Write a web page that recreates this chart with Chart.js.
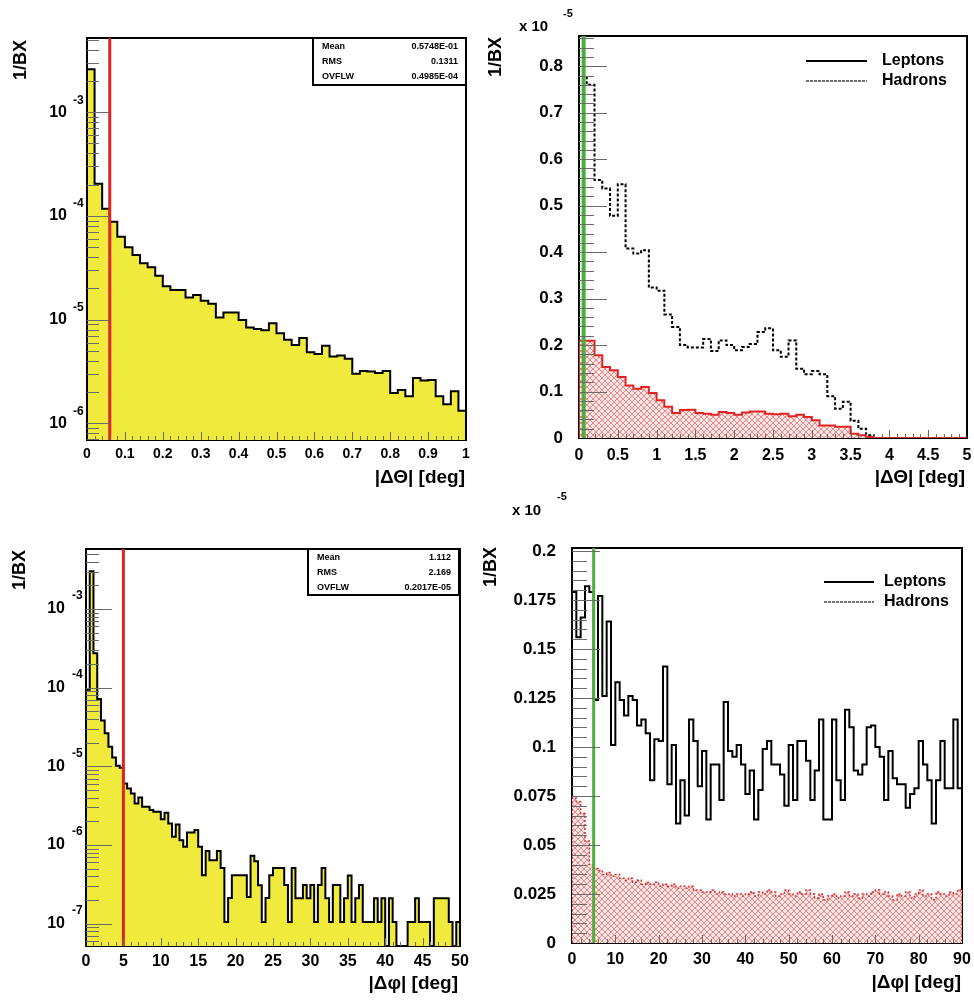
<!DOCTYPE html>
<html>
<head>
<meta charset="utf-8">
<script src="https://cdn.jsdelivr.net/npm/chart.js@4.4.1/dist/chart.umd.min.js"></script>
<style>
  body { margin: 0; background: #fff; width: 974px; height: 1001px; position: relative; overflow: hidden; }
  canvas { position: absolute; }
</style>
</head>
<body>
<canvas id="c1" width="480" height="500" style="left:0;top:0"></canvas>
<canvas id="c2" width="498" height="500" style="left:476px;top:0"></canvas>
<canvas id="c3" width="480" height="516" style="left:0;top:485px"></canvas>
<canvas id="c4" width="498" height="516" style="left:476px;top:485px"></canvas>
<script>
const FONT = "'Liberation Sans', Arial, sans-serif";
Chart.defaults.font.family = FONT;
Chart.defaults.font.weight = 'bold';
Chart.defaults.color = '#000';

// |dTheta| all pairs, 1/BX per 0.02 deg bin
const thetaStep = 0.02;
const thetaAll = [
    2.6e-3, 2.04e-4, 1.17e-4, 8.8e-5, 6.3e-5, 5.0e-5, 4.2e-5, 3.5e-5, 3.2e-5, 2.65e-5,
    2.1e-5, 1.93e-5, 1.93e-5, 1.63e-5, 1.73e-5, 1.52e-5, 1.42e-5, 1.05e-5, 1.17e-5, 1.17e-5,
    9.9e-6, 8.4e-6, 8.1e-6, 7.9e-6, 9.2e-6, 7.4e-6, 6.4e-6, 5.7e-6, 6.65e-6, 4.84e-6,
    4.67e-6, 5.6e-6, 4.4e-6, 4.5e-6, 4.2e-6, 3.0e-6, 3.2e-6, 3.15e-6, 3.05e-6, 3.2e-6,
    1.96e-6, 2.1e-6, 1.82e-6, 2.73e-6, 2.58e-6, 2.62e-6, 1.82e-6, 1.53e-6, 2.04e-6, 1.32e-6
];

// |dTheta| split by species, units of 1e-5 per 0.1 deg bin
const thetaSplitStep = 0.1;
const thetaHadrons = [
    0.779, 0.760, 0.555, 0.537, 0.478, 0.546, 0.408, 0.397, 0.404, 0.324,
    0.317, 0.266, 0.239, 0.200, 0.195, 0.195, 0.213, 0.187, 0.210, 0.200,
    0.189, 0.196, 0.202, 0.228, 0.236, 0.189, 0.175, 0.210, 0.149, 0.137,
    0.144, 0.137, 0.090, 0.063, 0.078, 0.037, 0.020, 0.006, 0, 0,
    0, 0, 0, 0, 0, 0, 0, 0, 0, 0
];
const thetaLeptons = [
    0.209, 0.209, 0.178, 0.153, 0.146, 0.131, 0.113, 0.106, 0.110, 0.097,
    0.081, 0.067, 0.054, 0.060, 0.061, 0.054, 0.052, 0.050, 0.056, 0.054,
    0.050, 0.055, 0.057, 0.057, 0.052, 0.051, 0.052, 0.047, 0.050, 0.045,
    0.038, 0.027, 0.027, 0.024, 0.024, 0.009, 0.006, 0.002, 0, 0,
    0, 0, 0, 0, 0, 0, 0, 0, 0, 0
];

// |dPhi| all pairs, 1/BX per 0.5 deg bin
const phiStep = 0.5;
const phiAll = [
    9.4e-5, 3.02e-3, 2.75e-4, 7.2e-5, 3.82e-5, 2.63e-5, 1.78e-5, 1.30e-5, 1.02e-5, 9.6e-6,
    6.07e-6, 5.24e-6, 4.53e-6, 3.38e-6, 4.03e-6, 3.06e-6, 3.06e-6, 2.78e-6, 2.65e-6, 2.65e-6,
    2.13e-6, 2.57e-6, 1.88e-6, 1.27e-6, 1.82e-6, 1.15e-6, 9.5e-7, 1.44e-6, 1.44e-6, 1.55e-6,
    9.5e-7, 4.13e-7, 8.4e-7, 6.4e-7, 6.4e-7, 8.4e-7, 5.1e-7, 1.05e-7, 2.12e-7, 4.13e-7,
    4.13e-7, 4.13e-7, 4.13e-7, 2.19e-7, 7.3e-7, 6.2e-7, 3.08e-7, 1.05e-7, 2.12e-7, 4.13e-7,
    5.1e-7, 5.1e-7, 5.1e-7, 3.1e-7, 1.05e-7, 5.1e-7, 2.1e-7, 2.1e-7, 3.1e-7, 2.1e-7,
    3.1e-7, 1.05e-7, 3.1e-7, 5.1e-7, 2.1e-7, 1.05e-7, 3.1e-7, 3.1e-7, 1.05e-7, 2.1e-7,
    4.1e-7, 1.05e-7, 2.1e-7, 3.1e-7, 1.05e-7, 1.05e-7, 1.05e-7, 2.1e-7, 1.05e-7, 2.1e-7,
    0, 2.1e-7, 1.05e-7, 0, 0, 0, 1.05e-7, 1.05e-7, 2.1e-7, 1.05e-7,
    1.05e-7, 1.05e-7, 0, 2.1e-7, 2.1e-7, 2.1e-7, 2.1e-7, 1.05e-7, 0, 1.05e-7
];

// |dPhi| split by species, units of 1e-5 per 1 deg bin
const phiSplitStep = 1;
const phiHadrons = [
    0.179, 0.156, 0.166, 0.182, 0.179, 0.124, 0.177, 0.126, 0.164, 0.101,
    0.133, 0.124, 0.116, 0.126, 0.124, 0.111, 0.114, 0.107, 0.083, 0.104,
    0.103, 0.141, 0.081, 0.101, 0.061, 0.083, 0.065, 0.114, 0.103, 0.080,
    0.098, 0.063, 0.091, 0.091, 0.073, 0.123, 0.098, 0.095, 0.101, 0.091,
    0.076, 0.088, 0.063, 0.078, 0.099, 0.103, 0.091, 0.091, 0.086, 0.070,
    0.101, 0.073, 0.103, 0.103, 0.093, 0.073, 0.088, 0.114, 0.063, 0.063,
    0.114, 0.083, 0.073, 0.119, 0.110, 0.088, 0.086, 0.091, 0.110, 0.111,
    0.100, 0.095, 0.073, 0.098, 0.084, 0.081, 0.081, 0.069, 0.076, 0.079,
    0.103, 0.091, 0.083, 0.061, 0.083, 0.103, 0.079, 0.079, 0.114, 0.079
];
const phiLeptons = [
    0.074, 0.072, 0.066, 0.052, 0.040, 0.038, 0.037, 0.035, 0.036, 0.034,
    0.035, 0.033, 0.032, 0.033, 0.031, 0.032, 0.030, 0.031, 0.030, 0.031,
    0.029, 0.030, 0.029, 0.030, 0.028, 0.029, 0.028, 0.029, 0.027, 0.027,
    0.026, 0.026, 0.027, 0.025, 0.026, 0.025, 0.025, 0.024, 0.025, 0.024,
    0.025, 0.026, 0.024, 0.026, 0.025, 0.027, 0.026, 0.024, 0.025, 0.027,
    0.025, 0.024, 0.026, 0.025, 0.027, 0.025, 0.023, 0.025, 0.022, 0.024,
    0.025, 0.023, 0.024, 0.026, 0.024, 0.025, 0.023, 0.025, 0.024, 0.026,
    0.027, 0.025, 0.026, 0.024, 0.022, 0.025, 0.024, 0.026, 0.023, 0.025,
    0.027, 0.024, 0.025, 0.022, 0.026, 0.025, 0.024, 0.026, 0.025, 0.027
];

const thetaCut = 0.06;
const phiCut = 5;
const statsTheta = [['Mean', '0.5748E-01'], ['RMS', '0.1311'], ['OVFLW', '0.4985E-04']];
const statsPhi = [['Mean', '1.112'], ['RMS', '2.169'], ['OVFLW', '0.2017E-05']];
const legendNames = ['Leptons', 'Hadrons'];
const yTitle = '1/BX';
const thetaTitle = '|\u0394\u0398| [deg]';
const phiTitle = '|\u0394\u03c6| [deg]';

const YELLOW = '#f0ea3c';
const RED = '#e02424';
const GREEN = '#4caf3c';

function histPoints(values, step, floor) {
    const pts = [{ x: 0, y: floor }];
    values.forEach((v, i) => pts.push({ x: i * step, y: v > 0 ? v : floor }));
    const last = values[values.length - 1];
    pts.push({ x: values.length * step, y: last > 0 ? last : floor });
    pts.push({ x: values.length * step, y: floor });
    return pts;
}

function hatch() {
    const c = document.createElement('canvas');
    c.width = 6; c.height = 6;
    const g = c.getContext('2d');
    g.fillStyle = '#fce6e6';
    g.fillRect(0, 0, 6, 6);
    g.strokeStyle = 'rgba(228,110,110,0.8)';
    g.lineWidth = 1;
    g.beginPath();
    g.moveTo(0, 0); g.lineTo(6, 6);
    g.moveTo(6, 0); g.lineTo(0, 6);
    g.stroke();
    return g.createPattern(c, 'repeat');
}

const fitW = w => s => { s.width = w; s.paddingTop = 0; s.paddingBottom = 0; s.paddingLeft = 0; s.paddingRight = 0; };
const fitH = h => s => { s.height = h; s.paddingTop = 0; s.paddingBottom = 0; s.paddingLeft = 0; s.paddingRight = 0; };
const fmt = v => String(+v.toFixed(3));

// ROOT style frame, inner ticks, titles, stats box and legend
function makeDeco(cfg) {
    return {
        id: 'rootDeco',
        beforeDatasetsDraw(chart) {
            const { ctx, chartArea: a } = chart;
            ctx.save();
            ctx.strokeStyle = '#000';
            ctx.lineWidth = 2;
            ctx.strokeRect(a.left, a.top, a.right - a.left, a.bottom - a.top);
            ctx.restore();
        },
        afterDatasetsDraw(chart) {
            const { ctx, chartArea: a } = chart;
            const xs = chart.scales.x, ys = chart.scales.y;
            ctx.save();
            ctx.strokeStyle = '#6a6a6a';
            ctx.lineWidth = 1;
            ctx.beginPath();
            if (cfg.logY) {
                const e0 = Math.floor(Math.log10(ys.min)), e1 = Math.ceil(Math.log10(ys.max));
                for (let e = e0; e <= e1; e++) {
                    for (let m = 1; m <= 9; m++) {
                        const v = m * Math.pow(10, e);
                        if (v < ys.min || v > ys.max) continue;
                        const p = Math.round(ys.getPixelForValue(v)) + 0.5;
                        ctx.moveTo(a.left, p);
                        ctx.lineTo(a.left + (m === 1 ? cfg.yMajorLen : cfg.yMinorLen), p);
                    }
                }
            } else {
                const n = Math.floor(ys.max / cfg.yMinor + 1e-6);
                const per = Math.round(cfg.yMajor / cfg.yMinor);
                for (let i = 1; i <= n; i++) {
                    const p = Math.round(ys.getPixelForValue(i * cfg.yMinor)) + 0.5;
                    ctx.moveTo(a.left, p);
                    ctx.lineTo(a.left + (i % per === 0 ? cfg.yMajorLen : cfg.yMinorLen), p);
                }
            }
            const nx = Math.round((xs.max - xs.min) / cfg.xMinor);
            const perX = Math.round(cfg.xMajor / cfg.xMinor);
            for (let i = 1; i < nx; i++) {
                const p = Math.round(xs.getPixelForValue(xs.min + i * cfg.xMinor)) + 0.5;
                ctx.moveTo(p, a.bottom);
                ctx.lineTo(p, a.bottom - (i % perX === 0 ? cfg.xMajorLen : cfg.xMinorLen));
            }
            ctx.stroke();

            ctx.fillStyle = '#000';
            if (cfg.logY) {
                cfg.decades.forEach(e => {
                    const p = ys.getPixelForValue(Math.pow(10, e));
                    ctx.font = 'bold 16px ' + FONT;
                    ctx.textAlign = 'right';
                    ctx.textBaseline = 'middle';
                    ctx.fillText('10', cfg.tenRight, p);
                    ctx.font = 'bold 12px ' + FONT;
                    ctx.textAlign = 'left';
                    ctx.fillText(String(e), cfg.expLeft, p - cfg.expRise);
                });
            }

            // axis titles
            ctx.save();
            ctx.translate(cfg.yTitleX, cfg.yTitleTop);
            ctx.rotate(-Math.PI / 2);
            ctx.font = 'bold 18px ' + FONT;
            ctx.textAlign = 'right';
            ctx.textBaseline = 'middle';
            ctx.fillText(yTitle, 0, 0);
            ctx.restore();
            ctx.font = 'bold 19px ' + FONT;
            ctx.textAlign = 'right';
            ctx.textBaseline = 'middle';
            ctx.fillText(cfg.xTitle, cfg.xTitleRight, cfg.xTitleY);

            if (cfg.mult) {
                ctx.textAlign = 'left';
                ctx.font = 'bold 15px ' + FONT;
                ctx.fillText('x 10', cfg.mult[0], cfg.mult[1]);
                ctx.font = 'bold 11px ' + FONT;
                ctx.fillText('-5', cfg.mult[2], cfg.mult[3]);
            }

            if (cfg.stats) {
                const [l, t, r, b] = cfg.statsBox;
                ctx.fillStyle = '#fff';
                ctx.fillRect(l, t, r - l, b - t);
                ctx.strokeStyle = '#000';
                ctx.lineWidth = 2;
                ctx.strokeRect(l, t, r - l, b - t);
                ctx.fillStyle = '#000';
                ctx.font = 'bold 9px ' + FONT;
                cfg.stats.forEach((row, i) => {
                    const yy = t + 8.5 + i * 15;
                    ctx.textAlign = 'left';
                    ctx.fillText(row[0], l + 9, yy);
                    ctx.textAlign = 'right';
                    ctx.fillText(row[1], r - 8, yy);
                });
            }

            if (cfg.legend) {
                const [x0, x1, tx, y0] = cfg.legend;
                ctx.strokeStyle = '#000';
                ctx.lineWidth = 2;
                ctx.beginPath();
                ctx.moveTo(x0, y0); ctx.lineTo(x1, y0);
                ctx.stroke();
                ctx.setLineDash([3, 1]);
                ctx.lineWidth = 1.5;
                ctx.strokeStyle = '#444';
                ctx.beginPath();
                ctx.moveTo(x0, y0 + 20); ctx.lineTo(x1, y0 + 20);
                ctx.stroke();
                ctx.setLineDash([]);
                ctx.font = 'bold 16px ' + FONT;
                ctx.textAlign = 'left';
                ctx.fillStyle = '#000';
                legendNames.forEach((name, i) => ctx.fillText(name, tx, y0 + i * 20));
            }
            ctx.restore();
        }
    };
}

function xAxis(max, step, size, pad, h) {
    return {
        type: 'linear', min: 0, max: max,
        grid: { display: false }, border: { display: false },
        ticks: { stepSize: step, font: { size: size, weight: 'bold' }, padding: pad, maxRotation: 0,
                 autoSkip: false, includeBounds: false, callback: fmt },
        afterFit: fitH(h)
    };
}

function logAxis(min, max, w) {
    return {
        type: 'logarithmic', min: min, max: max,
        grid: { display: false }, border: { display: false },
        ticks: { display: false },
        afterFit: fitW(w)
    };
}

function linAxis(max, step, w) {
    return {
        type: 'linear', min: 0, max: max,
        grid: { display: false }, border: { display: false },
        ticks: { stepSize: step, font: { size: 17, weight: 'bold' }, padding: 8, includeBounds: false, callback: fmt },
        afterFit: fitW(w)
    };
}

function baseOptions(scales, padding) {
    return {
        responsive: false, animation: false, events: [],
        layout: { padding: padding, autoPadding: false },
        plugins: { legend: { display: false }, tooltip: { enabled: false } },
        scales: scales
    };
}

function line(data, color, width, order, extra) {
    return Object.assign({ data: data, borderColor: color, borderWidth: width, pointRadius: 0,
                           fill: false, order: order, tension: 0 }, extra || {});
}

// top-left: |dTheta|, log scale
const t1Min = 6.9e-7, t1Max = 5.2e-3;
new Chart(document.getElementById('c1'), {
    type: 'line',
    data: { datasets: [
        line([{ x: thetaCut, y: t1Min }, { x: thetaCut, y: t1Max }], RED, 3, 0),
        line(histPoints(thetaAll, thetaStep, 1e-9), '#000', 2, 1,
             { stepped: true, fill: 'start', backgroundColor: YELLOW })
    ] },
    options: baseOptions({ x: xAxis(1, 0.1, 14, -2, 60), y: logAxis(t1Min, t1Max, 87) },
                         { left: 0, right: 14, top: 38, bottom: 0 }),
    plugins: [makeDeco({
        logY: true, decades: [-3, -4, -5, -6], tenRight: 67, expLeft: 73, expRise: 12,
        yMajorLen: 22, yMinorLen: 12, xMajor: 0.1, xMinor: 0.02, xMajorLen: 8, xMinorLen: 4,
        yTitleX: 21, yTitleTop: 40, xTitle: thetaTitle, xTitleRight: 465, xTitleY: 478,
        stats: statsTheta, statsBox: [313, 38, 466, 85]
    })]
});

// top-right: |dTheta| by species
new Chart(document.getElementById('c2'), {
    type: 'line',
    data: { datasets: [
        line([{ x: thetaCut, y: 0 }, { x: thetaCut, y: 0.865 }], GREEN, 4, 0),
        line(histPoints(thetaLeptons, thetaSplitStep, 0), RED, 2, 1,
             { stepped: true, fill: 'start', backgroundColor: hatch() }),
        line(histPoints(thetaHadrons, thetaSplitStep, 0), '#000', 2, 2,
             { stepped: true, borderDash: [3, 2] })
    ] },
    options: baseOptions({ x: xAxis(5, 0.5, 16, 0, 62), y: linAxis(0.865, 0.1, 103) },
                         { left: 0, right: 7, top: 36, bottom: 0 }),
    plugins: [makeDeco({
        logY: false, yMajor: 0.1, yMinor: 0.02, yMajorLen: 28, yMinorLen: 15,
        xMajor: 0.5, xMinor: 0.1, xMajorLen: 8, xMinorLen: 4,
        yTitleX: 20, yTitleTop: 37, xTitle: thetaTitle, xTitleRight: 489, xTitleY: 478,
        mult: [43, 27, 87, 14], legend: [330, 391, 406, 61]
    })]
});

// bottom-left: |dPhi|, log scale
const p1Min = 5.2e-8, p1Max = 5.8e-3;
new Chart(document.getElementById('c3'), {
    type: 'line',
    data: { datasets: [
        line([{ x: phiCut, y: p1Min }, { x: phiCut, y: p1Max }], RED, 3, 0),
        line(histPoints(phiAll, phiStep, 1e-10), '#000', 2, 1,
             { stepped: true, fill: 'start', backgroundColor: YELLOW })
    ] },
    options: baseOptions({ x: xAxis(50, 5, 16, -2, 55), y: logAxis(p1Min, p1Max, 86) },
                         { left: 0, right: 20, top: 64, bottom: 0 }),
    plugins: [makeDeco({
        logY: true, decades: [-3, -4, -5, -6, -7], tenRight: 65, expLeft: 72, expRise: 13,
        yMajorLen: 26, yMinorLen: 13, xMajor: 5, xMinor: 1, xMajorLen: 8, xMinorLen: 4,
        yTitleX: 20, yTitleTop: 65, xTitle: phiTitle, xTitleRight: 458, xTitleY: 499,
        stats: statsPhi, statsBox: [308, 64, 459, 110]
    })]
});

// bottom-right: |dPhi| by species
new Chart(document.getElementById('c4'), {
    type: 'line',
    data: { datasets: [
        line([{ x: phiCut, y: 0 }, { x: phiCut, y: 0.2015 }], GREEN, 3, 0),
        line(histPoints(phiLeptons, phiSplitStep, 0), RED, 1.5, 1,
             { stepped: true, fill: 'start', backgroundColor: hatch(), borderDash: [2, 2] }),
        line(histPoints(phiHadrons, phiSplitStep, 0), '#000', 2, 2, { stepped: true })
    ] },
    options: baseOptions({ x: xAxis(90, 10, 16, -1, 58), y: linAxis(0.2015, 0.025, 96) },
                         { left: 0, right: 12, top: 63, bottom: 0 }),
    plugins: [makeDeco({
        logY: false, yMajor: 0.025, yMinor: 0.005, yMajorLen: 28, yMinorLen: 15,
        xMajor: 10, xMinor: 2, xMajorLen: 8, xMinorLen: 4,
        yTitleX: 15, yTitleTop: 62, xTitle: phiTitle, xTitleRight: 485, xTitleY: 498,
        mult: [36, 26, 81, 12], legend: [348, 398, 408, 97]
    })]
});
</script>
</body>
</html>
